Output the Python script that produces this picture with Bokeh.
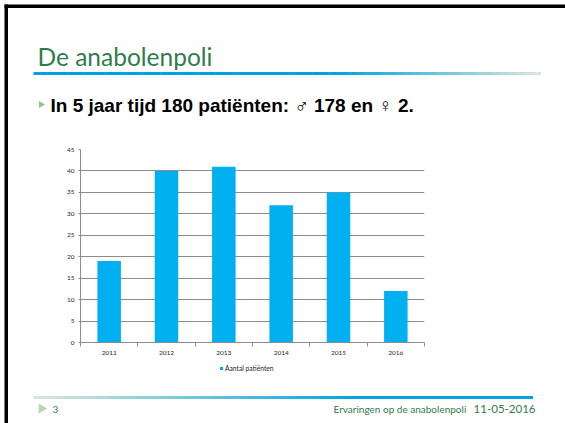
import numpy as np
from bokeh.plotting import figure
from bokeh.models import Range1d, FixedTicker, Legend, LegendItem
from bokeh.core.properties import value
from bokeh.embed import file_html
from bokeh.resources import INLINE

# ---- data ----
years = ["2011", "2012", "2013", "2014", "2015", "2016"]
patients = [19, 40, 41, 32, 35, 12]
y_ticks = [0, 5, 10, 15, 20, 25, 30, 35, 40, 45]
series_name = "Aantal patiënten"
slide_title = "De anabolenpoli"
bullet_text = "In 5 jaar tijd 180 patiënten: \u2642 178 en \u2640 2."
footer_num = "3"
footer_text = "Ervaringen op de anabolenpoli"
footer_date = "11-05-2016"

W, H = 565, 423
L, R, T, B = 80, 424, 149, 342   # chart plot area in page pixels
bar_color = "#00B0F0"

# ================= background slide =================
bg = figure(width=W, height=H, output_backend="svg", toolbar_location=None,
            x_range=Range1d(0, W), y_range=Range1d(H, 0),
            min_border=0)
bg.styles = {"margin-bottom": "-%dpx" % H}
bg.axis.visible = False
bg.grid.visible = False
bg.outline_line_color = None
bg.background_fill_color = "white"
bg.border_fill_color = "white"


def hex2rgb(h):
    h = h.lstrip("#")
    return np.array([int(h[i:i + 2], 16) for i in (0, 2, 4)], dtype=float)


def grad_color(stops, t):
    for (t0, c0), (t1, c1) in zip(stops[:-1], stops[1:]):
        if t0 <= t <= t1:
            f = 0 if t1 == t0 else (t - t0) / (t1 - t0)
            c = hex2rgb(c0) * (1 - f) + hex2rgb(c1) * f
            return "#%02x%02x%02x" % tuple(int(round(v)) for v in c)
    return stops[-1][1]


def grad_line(x0, x1, y0, y1, stops, n=120):
    edges = np.linspace(x0, x1, n + 1)
    cols = [grad_color(stops, (i + 0.5) / n) for i in range(n)]
    bg.quad(left=edges[:-1], right=edges[1:] + 0.5, top=[y0] * n, bottom=[y1] * n,
            fill_color=cols, line_color=None)


blue = "#00A3E0"
pale = "#DCE7D9"
grad_line(33, 540, 71.5, 74.5, [(0, blue), (0.6, blue), (1, pale)])
grad_line(33, 532, 395.5, 398.5, [(0, pale), (0.65, blue), (1, blue)])

# black frame edges (top and left)
bg.quad(left=[4, 4], right=[W, 7.5], top=[4, 4], bottom=[7.5, H],
        fill_color="#000000", line_color=None)

green = "#2F7D4A"


def txt(X, Y, text, font, size, color, align="left", style="normal", baseline="alphabetic"):
    bg.text(x=[X], y=[Y], text=[text], text_font=value(font), text_font_size=size,
            text_color=color, text_align=align, text_baseline=baseline,
            text_font_style=style)


txt(37, 56, slide_title, "Lato", "24.5px", green)
bg.scatter(x=[40.5], y=[104], marker="triangle", size=7, angle=-np.pi / 2,
           fill_color="#8DC68E", line_color=None)
txt(50, 104.5, bullet_text, "Liberation Sans", "19px", "#000000", style="bold")
bg.scatter(x=[41], y=[408], marker="triangle", size=10, angle=-np.pi / 2,
           fill_color="#B9D8AE", line_color=None)
txt(52, 408.5, footer_num, "Lato", "10px", green)
txt(333, 408.5, footer_text, "Lato", "10px", green)
txt(535, 408.5, footer_date, "Lato", "11.5px", green, align="right")

# legend of the chart series (drawn on the slide layer, under the chart area)
legend_ref = bg.vbar(x=list(range(len(years))), top=patients, width=0.41,
                     fill_color=bar_color, line_color=None, visible=False)
legend = Legend(items=[LegendItem(label=series_name, renderers=[legend_ref])],
                location=(219, H - 372), orientation="horizontal",
                padding=0, margin=0, spacing=0, border_line_color=None,
                background_fill_alpha=0, glyph_width=4, glyph_height=4,
                label_standoff=2, label_height=7, label_text_font="Lato",
                label_text_font_size="6.7px", label_text_color="#262626")
bg.add_layout(legend)

# ================= chart (overlaid on the slide) =================
ch = figure(width=W, height=H, output_backend="svg", toolbar_location=None,
            x_range=Range1d(-0.5, len(years) - 0.5), y_range=Range1d(0, 45),
            min_border_left=L, min_border_right=W - R,
            min_border_top=T, min_border_bottom=H - B)
ch.outline_line_color = None
ch.background_fill_alpha = 0
ch.border_fill_alpha = 0

xs = np.arange(len(years))
bars = ch.vbar(x=xs, top=patients, width=0.41, fill_color=bar_color, line_color=None)

grid_col = "#8C8C8C"
tick_font = "Lato"
lab_col = "#262626"

ch.xaxis.ticker = FixedTicker(ticks=list(range(len(years))),
                              minor_ticks=[i - 0.5 for i in range(len(years) + 1)])
ch.xaxis.major_label_overrides = {i: y for i, y in enumerate(years)}
ch.xaxis.major_tick_out = 0
ch.xaxis.major_tick_in = 0
ch.xaxis.minor_tick_out = 4
ch.xaxis.minor_tick_in = 0
ch.xaxis.minor_tick_line_color = grid_col
ch.xaxis.axis_line_color = grid_col
ch.xaxis.major_label_text_font = tick_font
ch.xaxis.major_label_text_font_size = "6.5px"
ch.xaxis.major_label_text_color = lab_col
ch.xaxis.major_label_standoff = 4
ch.xgrid.visible = False

ch.yaxis.ticker = FixedTicker(ticks=y_ticks, minor_ticks=[])
ch.yaxis.major_tick_out = 2
ch.yaxis.major_tick_in = 0
ch.yaxis.major_tick_line_color = grid_col
ch.yaxis.minor_tick_line_color = None
ch.yaxis.axis_line_color = grid_col
ch.yaxis.major_label_text_font = tick_font
ch.yaxis.major_label_text_font_size = "6.5px"
ch.yaxis.major_label_text_color = lab_col
ch.yaxis.major_label_standoff = 4
ch.ygrid.grid_line_color = grid_col
ch.ygrid.grid_line_width = 1

p = [bg, ch]
open("out.html", "w").write(file_html(p, INLINE))
